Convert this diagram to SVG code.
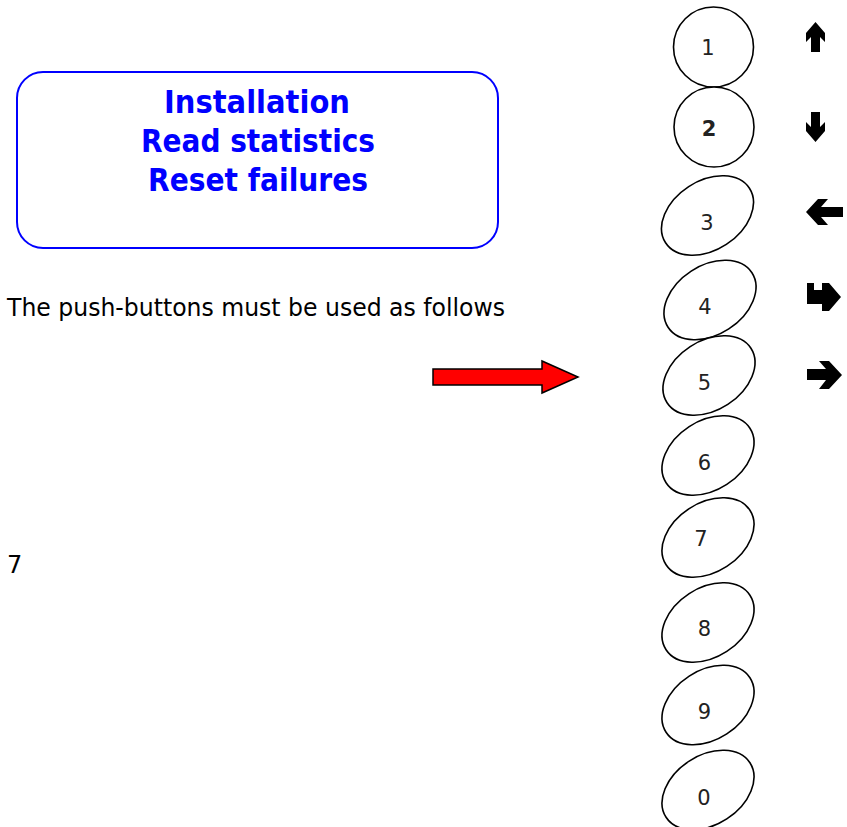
<svg xmlns="http://www.w3.org/2000/svg" width="847" height="827" viewBox="0 0 847 827">
  <style>
    .btn { fill: #ffffff; stroke: #000000; stroke-width: 1.6; }
    .num { font-family: "DejaVu Sans", "Liberation Sans", sans-serif; font-size: 21px; fill: #222222; text-anchor: middle; }
    .title { font-family: "DejaVu Sans", "Liberation Sans", sans-serif; font-weight: bold; font-size: 32px; fill: #0000ff; text-anchor: middle; }
    .body { font-family: "DejaVu Sans", "Liberation Sans", sans-serif; font-size: 24px; fill: #000000; }
    .icon { fill: #000000; }
  </style>

  <!-- menu box -->
  <g id="menu-box">
    <rect x="17" y="72" width="481" height="176" rx="26" ry="26" fill="#ffffff" stroke="#0000ff" stroke-width="2"/>
    <text class="title" x="257" y="113" textLength="186" lengthAdjust="spacingAndGlyphs">Installation</text>
    <text class="title" x="258" y="152" textLength="234" lengthAdjust="spacingAndGlyphs">Read statistics</text>
    <text class="title" x="258" y="191" textLength="220" lengthAdjust="spacingAndGlyphs">Reset failures</text>
  </g>

  <g id="caption">
    <text class="body" x="7" y="316" textLength="498" lengthAdjust="spacingAndGlyphs">The push-buttons must be used as follows</text>
  </g>

  <g id="footnote">
    <text class="body" x="7" y="573">7</text>
  </g>

  <!-- red pointer arrow -->
  <g id="connectors">
    <polygon points="433,369 542,369 542,361 578,377 542,393 542,385 433,385" fill="#ff0000" stroke="#000000" stroke-width="1.5" stroke-linejoin="miter"/>
  </g>

  <!-- keypad buttons -->
  <g id="btn-1">
    <circle class="btn" cx="713.5" cy="47" r="40"/>
    <text class="num" x="708" y="55">1</text>
  </g>
  <g id="btn-2">
    <circle class="btn" cx="714" cy="127" r="40"/>
    <text class="num" x="709" y="136" font-weight="bold">2</text>
  </g>
  <g id="btn-3">
    <ellipse class="btn" cx="707.5" cy="215.5" rx="50" ry="34.5" transform="rotate(-33 707.5 215.5)"/>
    <text class="num" x="707" y="230">3</text>
  </g>
  <g id="btn-4">
    <ellipse class="btn" cx="710" cy="300" rx="50" ry="34.5" transform="rotate(-33 710 300)"/>
    <text class="num" x="705" y="314">4</text>
  </g>
  <g id="btn-5">
    <ellipse class="btn" cx="709" cy="375.5" rx="50" ry="34.5" transform="rotate(-33 709 375.5)"/>
    <text class="num" x="704.5" y="390">5</text>
  </g>
  <g id="btn-6">
    <ellipse class="btn" cx="708" cy="455.5" rx="50" ry="34.5" transform="rotate(-33 708 455.5)"/>
    <text class="num" x="704.5" y="470">6</text>
  </g>
  <g id="btn-7">
    <ellipse class="btn" cx="708" cy="537.5" rx="50" ry="34.5" transform="rotate(-33 708 537.5)"/>
    <text class="num" x="701" y="546" font-size="17">7</text>
  </g>
  <g id="btn-8">
    <ellipse class="btn" cx="708" cy="622.5" rx="50" ry="34.5" transform="rotate(-33 708 622.5)"/>
    <text class="num" x="704.5" y="636">8</text>
  </g>
  <g id="btn-9">
    <ellipse class="btn" cx="708" cy="705" rx="50" ry="34.5" transform="rotate(-33 708 705)"/>
    <text class="num" x="704.5" y="719">9</text>
  </g>
  <g id="btn-0">
    <ellipse class="btn" cx="708" cy="790" rx="50" ry="34.5" transform="rotate(-33 708 790)"/>
    <text class="num" x="704" y="805">0</text>
  </g>

  <!-- direction icons -->
  <g id="icon-up">
    <polygon class="icon" points="815.5,22 825,33 825,42 820,37 820,52 811,52 811,37 806,42 806,33"/>
  </g>
  <g id="icon-down">
    <polygon class="icon" points="811,112 820,112 820,127 825,122 825,131 815.5,142 806,131 806,122 811,127"/>
  </g>
  <g id="icon-left">
    <polygon class="icon" points="806,212 818,199 828,199 821,207 843,207 843,217 821,217 828,225 818,225"/>
  </g>
  <g id="icon-enter">
    <polygon class="icon" points="807,283 814,283 814,290 822,290 822,283 829,283 841,297 829,311 822,311 822,304 807,304"/>
  </g>
  <g id="icon-right">
    <polygon class="icon" points="807,369 826,369 819,361 829,361 842,375 829,389 819,389 826,380 807,380"/>
  </g>
</svg>
